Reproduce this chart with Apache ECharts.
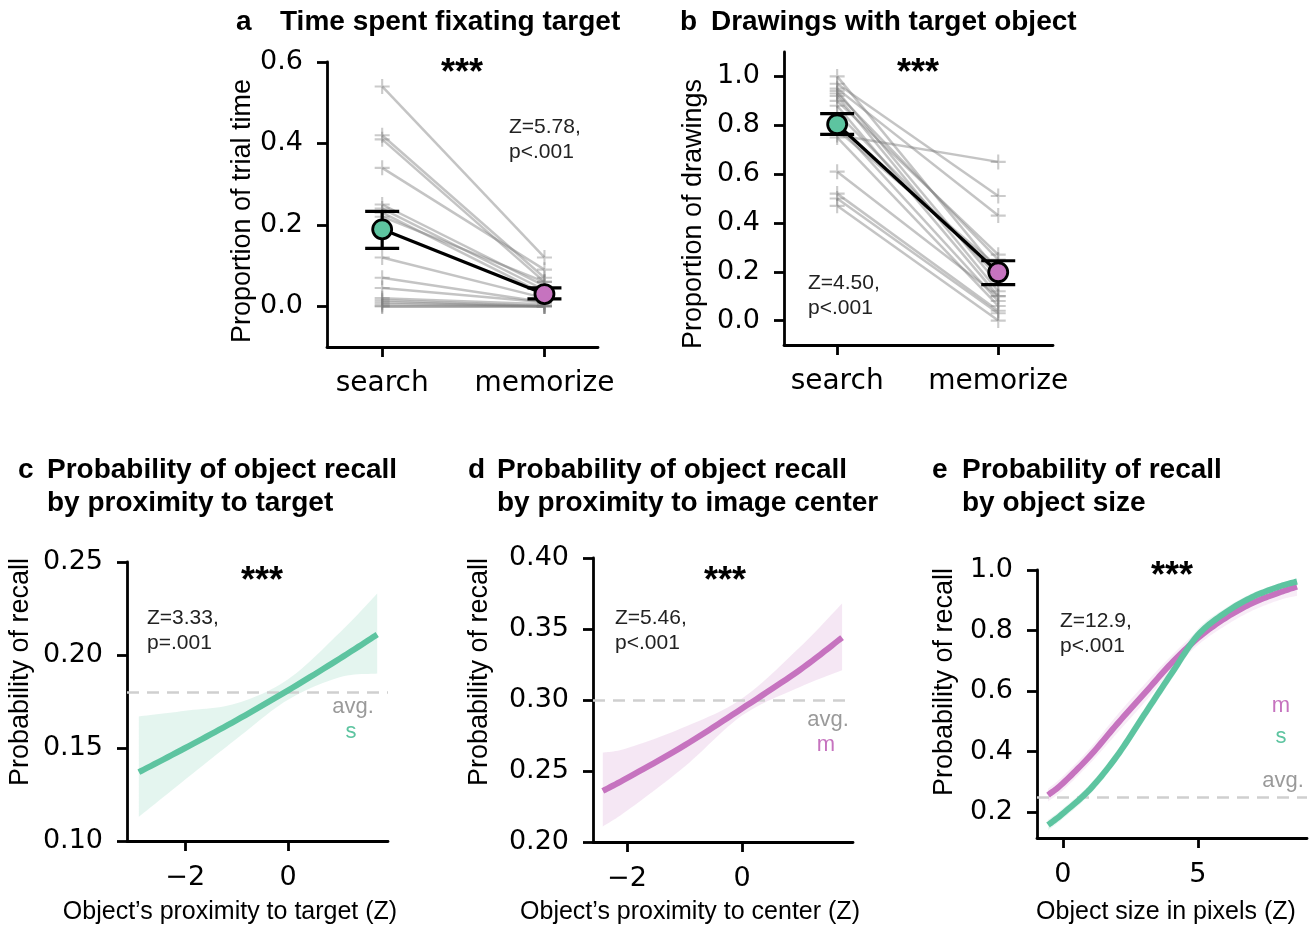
<!DOCTYPE html>
<html>
<head>
<meta charset="utf-8">
<script src="https://cdn.jsdelivr.net/npm/echarts@6/dist/echarts.min.js"></script>
<style>
  html, body { margin: 0; padding: 0; background: #fff; }
  #chart { width: 1314px; height: 927px; }
</style>
</head>
<body>
<div id="chart"></div>
<script>
// ---- data ----
const conditions = ['search', 'memorize']

// panel a: proportion of trial time fixating target, one entry per subject
const aSearch = [0.54, 0.42, 0.41, 0.34, 0.25, 0.24, 0.23, 0.22, 0.12, 0.07, 0.045, 0.02, 0.015, 0.01, 0.005, 0.0, 0.0]
const aMemorize = [0.12, 0.07, 0.06, 0.09, 0.05, 0.04, 0.03, 0.06, 0.02, 0.01, 0.01, 0.005, 0.0, 0.0, 0.0, 0.0, 0.0]
const aMean = [0.189, 0.030]
const aLow = [0.142, 0.018]
const aHigh = [0.233, 0.045]

// panel b: proportion of drawings with target object
const bSearch = [1.0, 0.97, 0.95, 0.94, 0.93, 0.92, 0.90, 0.88, 0.85, 0.80, 0.78, 0.76, 0.75, 0.61, 0.52, 0.50, 0.47]
const bMemorize = [0.20, 0.51, 0.43, 0.15, 0.25, 0.12, 0.27, 0.10, 0.18, 0.08, 0.22, 0.65, 0.06, 0.10, 0.04, 0.03, 0.0]
const bMean = [0.804, 0.198]
const bLow = [0.763, 0.147]
const bHigh = [0.848, 0.245]

// panel c: recall by proximity to target (s)
const cX = [-2.9, -2, -1, 0, 1, 1.73]
const cFit = [0.137, 0.150, 0.165, 0.181, 0.198, 0.211]
const cLower = [0.113, 0.133, 0.155, 0.176, 0.188, 0.190]
const cUpper = [0.167, 0.170, 0.174, 0.187, 0.212, 0.233]
const cAvg = 0.182

// panel d: recall by proximity to image center (m)
const dX = [-2.42, -2, -1, 0, 1, 1.74]
const dFit = [0.236, 0.245, 0.268, 0.294, 0.321, 0.344]
const dLower = [0.211, 0.222, 0.253, 0.289, 0.309, 0.321]
const dUpper = [0.263, 0.266, 0.281, 0.301, 0.337, 0.368]
const dAvg = 0.2965

// panel e: recall by object size
const eX = [-0.55, 0, 1, 2, 3, 4, 5, 6, 7, 8, 8.67]
const eM = [0.256, 0.295, 0.385, 0.49, 0.59, 0.69, 0.775, 0.84, 0.89, 0.925, 0.945]
const eMLower = [0.235, 0.272, 0.36, 0.46, 0.56, 0.665, 0.752, 0.815, 0.865, 0.9, 0.915]
const eMUpper = [0.277, 0.318, 0.41, 0.52, 0.62, 0.715, 0.798, 0.862, 0.91, 0.942, 0.96]
const eS = [0.157, 0.195, 0.275, 0.385, 0.52, 0.655, 0.785, 0.858, 0.91, 0.945, 0.962]
const eSLower = [0.14, 0.178, 0.258, 0.367, 0.5, 0.635, 0.765, 0.843, 0.897, 0.935, 0.95]
const eSUpper = [0.174, 0.212, 0.292, 0.403, 0.54, 0.675, 0.805, 0.873, 0.923, 0.955, 0.972]
const eAvg = 0.25

const TEAL = '#5dc4a0'
const PINK = '#c673bf'
const GRAY = 'rgba(125,125,125,0.45)'
const TICK_FONT = 'DejaVu Sans'
const TEXT_FONT = 'Liberation Sans'

const chart = echarts.init(document.getElementById('chart'))

const zip = (xs, ys) => xs.map((x, i) => [x, ys[i]])
const fmt = d => v => v.toFixed(d).replace('-', '\u2212')

function baseAxis(extra) {
  return Object.assign({
    type: 'value',
    axisLine: { show: true, onZero: false, lineStyle: { color: '#000', width: 2.8 }},
    axisTick: { show: true, length: 10, lineStyle: { color: '#000', width: 2.8 }},
    splitLine: { show: false },
    axisLabel: { color: '#000', fontSize: 27, fontFamily: TICK_FONT }
  }, extra)
}

function xAxisOf(grid, min, max, ticks, formatter, size) {
  const ax = baseAxis({ gridIndex: grid, min, max })
  ax.axisTick.customValues = ticks
  ax.axisLabel.customValues = ticks
  ax.axisLabel.formatter = formatter
  ax.axisLabel.margin = 23
  if (size) ax.axisLabel.fontSize = size
  return ax
}

function yAxisOf(grid, min, max, ticks, digits) {
  const ax = baseAxis({ gridIndex: grid, min, max })
  ax.axisTick.customValues = ticks
  ax.axisLabel.customValues = ticks
  ax.axisLabel.formatter = fmt(digits)
  ax.axisLabel.margin = 24
  return ax
}

const PLUS = 'path://M4.3,0H5.7V4.3H10V5.7H5.7V10H4.3V5.7H0V4.3H4.3Z'

// paired subjects panel (a / b)
function pairedSeries(idx, search, memorize, mean, low, high) {
  const ax = { xAxisIndex: idx, yAxisIndex: idx }
  return [
    Object.assign({
      type: 'lines',
      coordinateSystem: 'cartesian2d',
      silent: true,
      z: 1,
      lineStyle: { color: GRAY, width: 2.5, opacity: 1 },
      data: search.map((s, i) => ({ coords: [[0, s], [1, memorize[i]]] }))
    }, ax),
    Object.assign({
      type: 'scatter',
      symbol: PLUS,
      symbolSize: 15,
      z: 2,
      itemStyle: { color: 'rgba(125,125,125,0.5)' },
      data: search.map(s => [0, s]).concat(memorize.map(m => [1, m]))
    }, ax),
    Object.assign({
      type: 'line',
      z: 3,
      symbol: 'none',
      lineStyle: { color: '#000', width: 3.2 },
      data: zip([0, 1], mean)
    }, ax),
    Object.assign({
      type: 'custom',
      z: 4,
      encode: { x: 0, y: [1, 2] },
      data: [[0, low[0], high[0]], [1, low[1], high[1]]],
      renderItem(params, api) {
        const x = api.value(0)
        const lo = api.coord([x, api.value(1)])
        const hi = api.coord([x, api.value(2)])
        const w = 17
        const st = { stroke: '#000', lineWidth: 3.2 }
        return {
          type: 'group',
          children: [
            { type: 'line', shape: { x1: lo[0], y1: lo[1], x2: hi[0], y2: hi[1] }, style: st },
            { type: 'line', shape: { x1: lo[0] - w, y1: lo[1], x2: lo[0] + w, y2: lo[1] }, style: st },
            { type: 'line', shape: { x1: hi[0] - w, y1: hi[1], x2: hi[0] + w, y2: hi[1] }, style: st }
          ]
        }
      }
    }, ax),
    Object.assign({
      type: 'scatter',
      z: 5,
      symbolSize: 19,
      itemStyle: { borderColor: '#000', borderWidth: 2.8, opacity: 1 },
      data: [
        { value: [0, mean[0]], itemStyle: { color: TEAL }},
        { value: [1, mean[1]], itemStyle: { color: PINK }}
      ]
    }, ax)
  ]
}

// catmull-rom sampling in pixel space, so curves and band edges are drawn smooth
function smoothPts(pts) {
  const out = []
  for (let i = 0; i < pts.length - 1; i++) {
    const p0 = pts[Math.max(i - 1, 0)]
    const p1 = pts[i]
    const p2 = pts[i + 1]
    const p3 = pts[Math.min(i + 2, pts.length - 1)]
    for (let k = 0; k < 12; k++) {
      const t = k / 12
      const t2 = t * t
      const t3 = t2 * t
      out.push([0, 1].map(j => 0.5 * (2 * p1[j] + (-p0[j] + p2[j]) * t +
        (2 * p0[j] - 5 * p1[j] + 4 * p2[j] - p3[j]) * t2 +
        (-p0[j] + 3 * p1[j] - 3 * p2[j] + p3[j]) * t3)))
    }
  }
  out.push(pts[pts.length - 1])
  return out
}

// confidence band as one polygon placed through the axes
function bandSeries(idx, xs, lower, upper, color) {
  return {
    type: 'custom',
    xAxisIndex: idx,
    yAxisIndex: idx,
    silent: true,
    z: 1,
    encode: { x: 0, y: [1, 2] },
    data: xs.map((x, i) => [x, lower[i], upper[i]]),
    renderItem(params, api) {
      if (params.dataIndex !== 0) return
      const up = xs.map((x, i) => api.coord([x, upper[i]]))
      const lo = xs.map((x, i) => api.coord([x, lower[i]])).reverse()
      return {
        type: 'polygon',
        shape: { points: smoothPts(up).concat(smoothPts(lo)) },
        style: { fill: color }
      }
    }
  }
}

// fitted curve, plus the dashed average line when given
function fitSeries(idx, xs, ys, color, avg) {
  const s = {
    type: 'custom',
    xAxisIndex: idx,
    yAxisIndex: idx,
    silent: true,
    z: 3,
    encode: { x: 0, y: 1 },
    data: zip(xs, ys),
    renderItem(params, api) {
      if (params.dataIndex !== 0) return
      const pts = xs.map((x, i) => api.coord([x, ys[i]]))
      return {
        type: 'polyline',
        shape: { points: smoothPts(pts) },
        style: { stroke: color, lineWidth: 6, fill: null, lineCap: 'butt' }
      }
    }
  }
  if (avg != null) {
    s.markLine = {
      silent: true,
      symbol: ['none', 'none'],
      label: { show: false },
      lineStyle: { color: '#cfcfcf', width: 2.5, type: [12, 8] },
      data: [{ yAxis: avg }],
      z: 2
    }
  }
  return s
}

function txt(x, y, text, size, opts = {}) {
  return {
    type: 'text',
    x, y,
    rotation: opts.rotate ? Math.PI / 2 : 0,
    z: 100,
    style: {
      text,
      fill: opts.color || '#000',
      fontFamily: opts.font || TEXT_FONT,
      fontSize: size,
      fontWeight: opts.bold ? 'bold' : 'normal',
      align: opts.align || 'left',
      verticalAlign: 'middle'
    }
  }
}

const TITLE = 28
const YNAME = 27
const XNAME = 25
const graphics = [
  // titles
  txt(236, 22, 'a', TITLE, { bold: true }),
  txt(280, 22, 'Time spent fixating target', TITLE, { bold: true }),
  txt(680, 22, 'b', TITLE, { bold: true }),
  txt(711, 22, 'Drawings with target object', TITLE, { bold: true }),
  txt(18, 470, 'c', TITLE, { bold: true }),
  txt(47, 470, 'Probability of object recall', TITLE, { bold: true }),
  txt(47, 503, 'by proximity to target', TITLE, { bold: true }),
  txt(468, 470, 'd', TITLE, { bold: true }),
  txt(497, 470, 'Probability of object recall', TITLE, { bold: true }),
  txt(497, 503, 'by proximity to image center', TITLE, { bold: true }),
  txt(932, 470, 'e', TITLE, { bold: true }),
  txt(962, 470, 'Probability of recall', TITLE, { bold: true }),
  txt(962, 503, 'by object size', TITLE, { bold: true }),
  // axis names
  txt(243, 211, 'Proportion of trial time', YNAME, { rotate: true, align: 'center' }),
  txt(694, 214, 'Proportion of drawings', YNAME, { rotate: true, align: 'center' }),
  txt(21, 672, 'Probability of recall', YNAME, { rotate: true, align: 'center' }),
  txt(480, 672, 'Probability of recall', YNAME, { rotate: true, align: 'center' }),
  txt(945, 682, 'Probability of recall', YNAME, { rotate: true, align: 'center' }),
  txt(230, 912, 'Object\u2019s proximity to target (Z)', XNAME, { align: 'center' }),
  txt(690, 912, 'Object\u2019s proximity to center (Z)', XNAME, { align: 'center' }),
  txt(1166, 912, 'Object size in pixels (Z)', XNAME, { align: 'center' }),
  // significance stars and stats
  txt(462, 74, '***', 36, { bold: true, align: 'center' }),
  txt(918, 74, '***', 36, { bold: true, align: 'center' }),
  txt(262, 582, '***', 36, { bold: true, align: 'center' }),
  txt(725, 582, '***', 36, { bold: true, align: 'center' }),
  txt(1172, 577, '***', 36, { bold: true, align: 'center' }),
  txt(509, 127, 'Z=5.78,', 21, { color: '#222' }),
  txt(509, 152, 'p<.001', 21, { color: '#222' }),
  txt(808, 283, 'Z=4.50,', 21, { color: '#222' }),
  txt(808, 308, 'p<.001', 21, { color: '#222' }),
  txt(147, 618, 'Z=3.33,', 21, { color: '#222' }),
  txt(147, 643, 'p=.001', 21, { color: '#222' }),
  txt(615, 618, 'Z=5.46,', 21, { color: '#222' }),
  txt(615, 643, 'p<.001', 21, { color: '#222' }),
  txt(1060, 621, 'Z=12.9,', 21, { color: '#222' }),
  txt(1060, 646, 'p<.001', 21, { color: '#222' }),
  // in-plot legends
  txt(353, 707, 'avg.', 22, { color: '#9a9a9a', align: 'center' }),
  txt(351, 732, 's', 22, { color: TEAL, align: 'center' }),
  txt(828, 720, 'avg.', 22, { color: '#9a9a9a', align: 'center' }),
  txt(826, 745, 'm', 22, { color: PINK, align: 'center' }),
  txt(1283, 781, 'avg.', 22, { color: '#9a9a9a', align: 'center' }),
  txt(1281, 706, 'm', 22, { color: PINK, align: 'center' }),
  txt(1281, 737, 's', 22, { color: TEAL, align: 'center' })
]

chart.setOption({
  animation: false,
  backgroundColor: '#fff',
  grid: [
    { left: 327, top: 62, width: 271, height: 285 },
    { left: 784, top: 52, width: 269, height: 293 },
    { left: 127, top: 562, width: 261, height: 279 },
    { left: 593, top: 558, width: 260, height: 284 },
    { left: 1037, top: 570, width: 270, height: 268 }
  ],
  xAxis: [
    xAxisOf(0, -0.34, 1.33, [0, 1], v => conditions[Math.round(v)], 28),
    xAxisOf(1, -0.33, 1.34, [0, 1], v => conditions[Math.round(v)], 28),
    xAxisOf(2, -3.13, 1.94, [-2, 0], fmt(0)),
    xAxisOf(3, -2.59, 1.93, [-2, 0], fmt(0)),
    xAxisOf(4, -0.96, 9.04, [0, 5], fmt(0))
  ],
  yAxis: [
    yAxisOf(0, -0.1, 0.6, [0, 0.2, 0.4, 0.6], 1),
    yAxisOf(1, -0.1, 1.1, [0, 0.2, 0.4, 0.6, 0.8, 1.0], 1),
    yAxisOf(2, 0.10, 0.25, [0.10, 0.15, 0.20, 0.25], 2),
    yAxisOf(3, 0.20, 0.40, [0.20, 0.25, 0.30, 0.35, 0.40], 2),
    yAxisOf(4, 0.114, 1.0, [0.2, 0.4, 0.6, 0.8, 1.0], 1)
  ],
  graphic: graphics,
  series: [
    ...pairedSeries(0, aSearch, aMemorize, aMean, aLow, aHigh),
    ...pairedSeries(1, bSearch, bMemorize, bMean, bLow, bHigh),
    bandSeries(2, cX, cLower, cUpper, 'rgba(93,196,160,0.17)'),
    fitSeries(2, cX, cFit, TEAL, cAvg),
    bandSeries(3, dX, dLower, dUpper, 'rgba(198,115,191,0.17)'),
    fitSeries(3, dX, dFit, PINK, dAvg),
    bandSeries(4, eX, eMLower, eMUpper, 'rgba(198,115,191,0.13)'),
    bandSeries(4, eX, eSLower, eSUpper, 'rgba(93,196,160,0.13)'),
    fitSeries(4, eX, eM, PINK, eAvg),
    fitSeries(4, eX, eS, TEAL, null)
  ]
})
</script>
</body>
</html>
